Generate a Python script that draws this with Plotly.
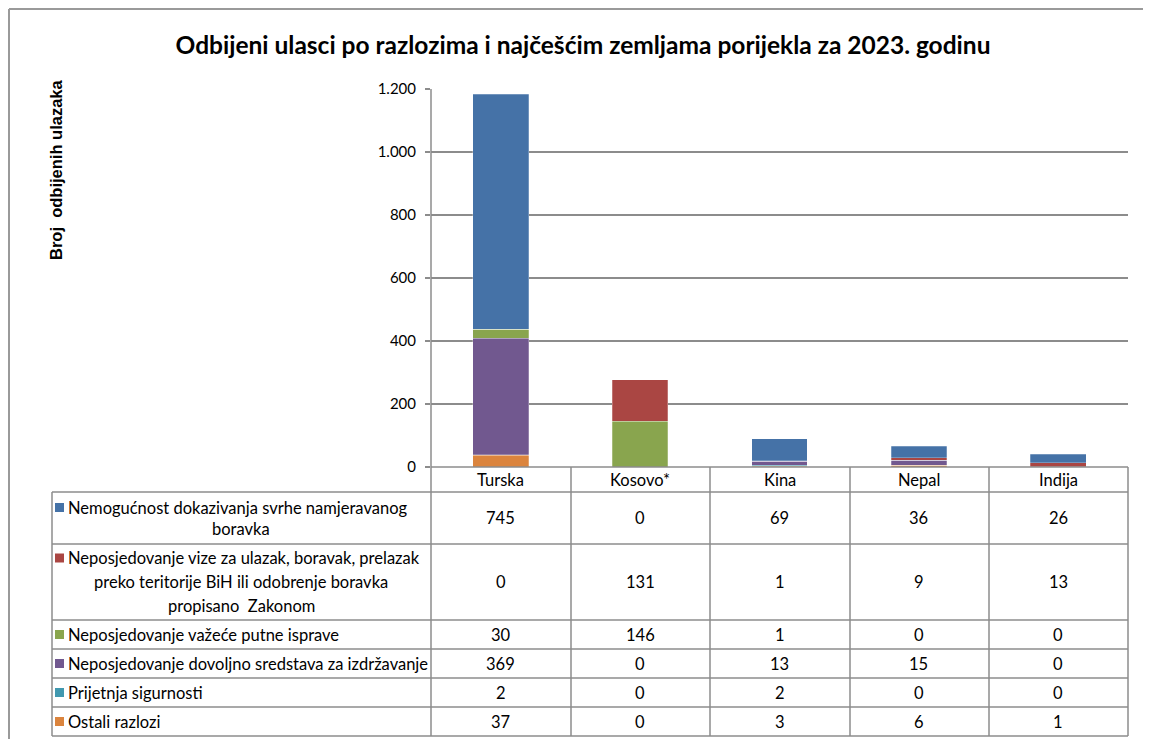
import plotly.graph_objects as go

zemlje = ["Turska", "Kosovo*", "Kina", "Nepal", "Indija"]

razlozi = [
    "Nemogućnost dokazivanja svrhe namjeravanog\nboravka",
    "Neposjedovanje vize za ulazak, boravak, prelazak\npreko teritorije BiH ili odobrenje boravka\npropisano  Zakonom",
    "Neposjedovanje važeće putne isprave",
    "Neposjedovanje dovoljno sredstava za izdržavanje",
    "Prijetnja sigurnosti",
    "Ostali razlozi",
]

nemogucnost_svrhe = [745, 0, 69, 36, 26]
bez_vize = [0, 131, 1, 9, 13]
bez_putne_isprave = [30, 146, 1, 0, 0]
bez_sredstava = [369, 0, 13, 15, 0]
prijetnja = [2, 0, 2, 0, 0]
ostali = [37, 0, 3, 6, 1]

vrijednosti = [nemogucnost_svrhe, bez_vize, bez_putne_isprave, bez_sredstava, prijetnja, ostali]
boje = ["#4572A7", "#AA4643", "#89A54E", "#71588F", "#4198AF", "#DB843D"]

# stranica ima 8px margine, pa je sve pomjereno
OFF = 8
W, H = 1135, 731
L, R, T, B = 431, 1128, 89, 467
GRID = "#8c8c8c"
FONT = "Lato"
FS = 16.5


def px(x):
    return (x - L) / (R - L)


def py(y):
    return (B - y) / (B - T)


fig = go.Figure()
# excel slaže od dna prema vrhu obrnutim redom tabele
for naziv, vals, boja in reversed(list(zip(razlozi, vrijednosti, boje))):
    fig.add_trace(go.Bar(
        x=zemlje, y=vals, name=naziv.replace("\n", " "),
        marker=dict(color=boja, line=dict(color="rgba(255,255,255,0.5)", width=0.5)),
        width=0.4, showlegend=False,
    ))

shapes = []
ann = []


def hline(y, x0, x1, boja=GRID, w=1.5):
    shapes.append(dict(type="line", xref="paper", yref="paper", x0=px(x0), x1=px(x1),
                       y0=py(y), y1=py(y), line=dict(color=boja, width=w)))


def vline(x, y0, y1, boja=GRID, w=1.5):
    shapes.append(dict(type="line", xref="paper", yref="paper", x0=px(x), x1=px(x),
                       y0=py(y0), y1=py(y1), line=dict(color=boja, width=w)))


def tekst(x, y, t, xref="paper", xanchor="center", **kw):
    d = dict(x=x, xref=xref, y=py(y), yref="paper", text=t, showarrow=False,
             xanchor=xanchor, yanchor="middle",
             font=dict(family=FONT, size=FS, color="#000"))
    d.update(kw)
    ann.append(d)


# okvir grafikona (gornja i lijeva ivica)
hline(9, 9, 1160, boja="#9a9a9a", w=2)
vline(9, 9, 760, boja="#9a9a9a", w=2)

# tabela podataka
redovi = [492, 544, 620, 649, 678, 707, 736]
kolone = [571, 710, 850, 989, 1128]
hline(B, L, R)
for y in redovi:
    hline(y, 52, R)
vline(52, redovi[0], redovi[-1])
vline(L, T, redovi[-1])
for x in kolone:
    vline(x, B, redovi[-1])

for z in zemlje:
    tekst(z, (B + redovi[0]) / 2, z, xref="x")

for i, (naziv, vals, boja) in enumerate(zip(razlozi, vrijednosti, boje)):
    yc = (redovi[i] + redovi[i + 1]) / 2
    linije = naziv.split("\n")
    n = len(linije)
    lh = 24 if n == 3 else 21
    for j, t in enumerate(linije):
        yl = yc + (j - (n - 1) / 2) * lh
        if j == 0:
            tekst(px(66), yl, t, xanchor="left")
            shapes.append(dict(type="rect", xref="paper", yref="paper", x0=px(55), x1=px(64),
                               y0=py(yl + 4.5), y1=py(yl - 4.5), fillcolor=boja, line=dict(width=0)))
        else:
            tekst(px(241), yl, t)
    for z, v in zip(zemlje, vals):
        tekst(z, yc, str(v), xref="x")

tekst(px(56), 170, "<b>Broj  odbijenih ulazaka</b>", textangle=-90,
      font=dict(family="Liberation Sans", size=16.5, color="#000"))

fig.update_layout(
    width=W, height=H,
    margin=dict(l=L - OFF, r=W - (R - OFF), t=T - OFF, b=H - (B - OFF)),
    paper_bgcolor="white", plot_bgcolor="white",
    barmode="stack", separators=",.",
    title=dict(text="<b>Odbijeni ulasci po razlozima i najčešćim zemljama porijekla za 2023. godinu</b>",
               x=(583 - OFF) / W, xanchor="center", y=1 - (45 - OFF) / H, yanchor="middle",
               font=dict(family=FONT, size=24.5, color="#000")),
    xaxis=dict(range=[-0.5, 4.5], showticklabels=False, showgrid=False, ticks="", zeroline=False),
    yaxis=dict(range=[0, 1200], dtick=200, tickformat=",d", showgrid=True, gridcolor=GRID, gridwidth=1.5,
               zeroline=False, ticks="outside", ticklen=5, tickcolor=GRID, tickwidth=1.5,
               showline=False, ticklabelstandoff=6,
               tickfont=dict(family=FONT, size=15, color="#000")),
    shapes=shapes, annotations=ann,
)

fig.write_html("out.html")
